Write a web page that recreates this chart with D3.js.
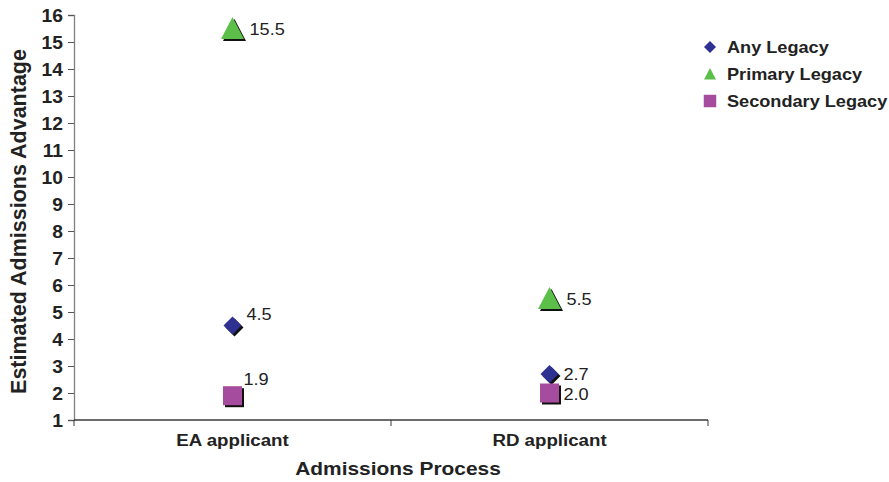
<!DOCTYPE html>
<html>
<head>
<meta charset="utf-8">
<script src="https://cdn.jsdelivr.net/npm/d3@7"></script>
<style>
  html, body { margin: 0; padding: 0; background: #fff; }
  svg { display: block; font-family: Arial, "Liberation Sans", sans-serif; }
</style>
</head>
<body>
<svg id="chart" width="889" height="482"></svg>
<script>
// Admissions advantage by process and legacy type
const categories = ["EA applicant", "RD applicant"];
const seriesNames = ["Any Legacy", "Primary Legacy", "Secondary Legacy"];
const anyLegacy = [4.5, 2.7];
const primaryLegacy = [15.5, 5.5];
const secondaryLegacy = [1.9, 2.0];
const yTicks = [1, 2, 3, 4, 5, 6, 7, 8, 9, 10, 11, 12, 13, 14, 15, 16];

const seriesValues = [anyLegacy, primaryLegacy, secondaryLegacy];
const colors = ["#2e3192", "#5cbf4a", "#a54c9e"];

// Marker shapes: rotated square, tall triangle, square
const diamond = { draw(ctx, size) { const r = Math.sqrt(size) / 2;
  ctx.moveTo(0, -r); ctx.lineTo(r, 0); ctx.lineTo(0, r); ctx.lineTo(-r, 0); ctx.closePath(); } };
const triangle = { draw(ctx, size) { const r = Math.sqrt(size) / 2;
  ctx.moveTo(0, -r); ctx.lineTo(r, r * 0.92); ctx.lineTo(-r, r * 0.92); ctx.closePath(); } };
const square = { draw(ctx, size) { const r = Math.sqrt(size) / 2;
  ctx.rect(-r, -r, 2 * r, 2 * r); } };
const shapes = [diamond, triangle, square];
const sizes = [18 * 18, 23 * 23, 19 * 19];
const legendSizes = [12 * 12, 12 * 12, 12.5 * 12.5];

const STRETCH = 1.1; // horizontal widening of text
const TEXT = "#222";

const svg = d3.select("#chart");
const margin = { left: 74, right: 181, top: 15, bottom: 62 };
const W = 889, H = 482;

const x = d3.scaleBand().domain(categories).range([margin.left, W - margin.right]);
const y = d3.scaleLinear().domain([1, 16]).range([H - margin.bottom, margin.top]);

// text helper: places text at (px,py) with horizontal widening
function label(parent, px, py, str, opts) {
  return parent.append("text")
    .attr("transform", `translate(${px},${py}) scale(${STRETCH},1)`)
    .attr("text-anchor", opts.anchor || "start")
    .attr("font-size", opts.size)
    .attr("font-family", "Arial, 'Liberation Sans', sans-serif")
    .attr("font-weight", opts.bold ? "bold" : "normal")
    .attr("fill", TEXT)
    .text(str);
}

// Y axis
const yAxis = svg.append("g")
  .attr("transform", `translate(${margin.left},0)`)
  .call(d3.axisLeft(y).tickValues(yTicks).tickSize(6).tickFormat(() => ""));
yAxis.select(".domain").attr("stroke", "#808080").attr("stroke-width", 1.3);
yAxis.selectAll(".tick line").attr("stroke", "#555");
yAxis.selectAll(".tick").each(function (d) {
  label(d3.select(this), -11, 6.2, d3.format("d")(d), { size: 17.5, bold: true, anchor: "end" });
});

// X axis with category boundary ticks
const xAxisG = svg.append("g").attr("transform", `translate(0,${y(1)})`);
xAxisG.append("line")
  .attr("x1", margin.left).attr("x2", W - margin.right)
  .attr("stroke", "#3a3a3a").attr("stroke-width", 1.4);
const bounds = [x.range()[0], ...categories.map(c => x(c) + x.bandwidth())];
xAxisG.selectAll(".bt").data(bounds).enter().append("line")
  .attr("x1", d => d).attr("x2", d => d).attr("y1", 0).attr("y2", 6)
  .attr("stroke", "#3a3a3a");
categories.forEach(c => {
  label(xAxisG, x(c) + x.bandwidth() / 2, 26, c, { size: 17, bold: true, anchor: "middle" });
});

// Axis titles
label(svg, 398, 475, "Admissions Process", { size: 19, bold: true, anchor: "middle" });
svg.append("text")
  .attr("transform", `translate(26,${(y(1) + y(16)) / 2 + 4}) rotate(-90)`)
  .attr("text-anchor", "middle").attr("font-size", 21.5).attr("font-weight", "bold").attr("fill", TEXT)
  .text("Estimated Admissions Advantage");

// Data-label offsets per series, per category [dx, dy]
const labelOffsets = [
  [[14, -6], [14, 6]],
  [[17, 6], [17, 6]],
  [[11, -11], [14, 7]]
];

// Draw markers (with drop shadow) and value labels
seriesValues.forEach((vals, si) => {
  const sym = d3.symbol().type(shapes[si]).size(sizes[si]);
  const g = svg.append("g");
  vals.forEach((v, ci) => {
    const cx = x(categories[ci]) + x.bandwidth() / 2;
    const cy = y(v);
    g.append("path").attr("d", sym()).attr("transform", `translate(${cx + 2},${cy + 2})`).attr("fill", "#111");
    g.append("path").attr("d", sym()).attr("transform", `translate(${cx},${cy})`).attr("fill", colors[si]);
    const [dx, dy] = labelOffsets[si][ci];
    label(g, cx + dx, cy + dy, d3.format(".1f")(v), { size: 16.5 });
  });
});

// Legend
const legend = svg.append("g").attr("transform", "translate(710,47)");
seriesNames.forEach((name, i) => {
  const row = legend.append("g").attr("transform", `translate(0,${i * 27})`);
  row.append("path")
    .attr("d", d3.symbol().type(shapes[i]).size(legendSizes[i])())
    .attr("fill", colors[i]);
  label(row, 17, 6, name, { size: 16.5, bold: true });
});
</script>
</body>
</html>
